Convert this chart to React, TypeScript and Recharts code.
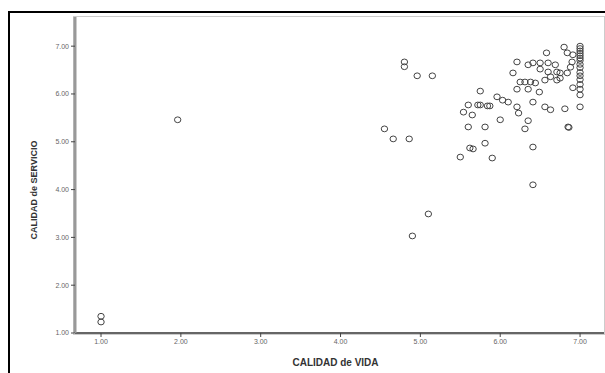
import { ScatterChart, Scatter, XAxis, YAxis } from "recharts";

// CALIDAD de VIDA (x) and CALIDAD de SERVICIO (y)
const vida = [
  1.0, 1.0, 1.96,
  4.8, 4.8, 4.96, 5.15,
  4.55, 4.66, 4.86,
  4.9, 5.1,
  5.5, 5.9, 5.62, 5.66, 5.81, 6.41, 6.41,
  5.6, 5.81, 6.0, 6.35, 6.31, 6.85, 6.86,
  5.54, 5.65, 5.6, 5.75, 5.84, 5.87, 5.72,
  5.96, 6.03, 6.1, 6.21, 6.23, 6.41, 6.56, 6.63, 6.81, 7.0,
  5.75, 6.21, 6.35, 6.49, 6.91,
  6.25, 6.31, 6.38, 6.44, 6.56, 6.63, 6.71, 6.75,
  6.16, 6.5, 6.6,
  6.21, 6.35, 6.41, 6.5, 6.6, 6.69, 6.71, 6.75, 6.84, 6.88, 6.9,
  6.58, 6.84, 6.91, 6.8,
  7.0, 7.0, 7.0, 7.0, 7.0, 7.0, 7.0, 7.0, 7.0, 7.0, 7.0, 7.0, 7.0, 7.0, 7.0,
];

const servicio = [
  1.35, 1.23, 5.46,
  6.67, 6.57, 6.38, 6.38,
  5.27, 5.06, 5.06,
  3.03, 3.49,
  4.68, 4.66, 4.87, 4.85, 4.97, 4.89, 4.1,
  5.31, 5.31, 5.46, 5.44, 5.27, 5.31, 5.3,
  5.62, 5.56, 5.77, 5.77, 5.75, 5.75, 5.77,
  5.94, 5.87, 5.83, 5.73, 5.6, 5.83, 5.73, 5.67, 5.69, 5.73,
  6.06, 6.1, 6.1, 6.04, 6.13,
  6.25, 6.25, 6.25, 6.23, 6.29, 6.36, 6.29, 6.33,
  6.44, 6.52, 6.46,
  6.67, 6.61, 6.65, 6.65, 6.65, 6.61, 6.46, 6.44, 6.44, 6.56, 6.67,
  6.86, 6.86, 6.82, 6.98,
  7.0, 6.95, 6.9, 6.85, 6.8, 6.75, 6.7, 6.62, 6.55, 6.45, 6.38, 6.3, 6.2, 6.1, 5.98,
];

const ticks = [1, 2, 3, 4, 5, 6, 7];

const points = vida.map((v, i) => ({ vida: v, servicio: servicio[i] }));

const tickStyle = { fontSize: 7, fill: "#666", fontFamily: "Liberation Sans, Arial" };

const Ring = (props: any) => (
  <ellipse cx={props.cx} cy={props.cy} rx={3.2} ry={2.9} fill="none" stroke="#444" strokeWidth={1} />
);

export default function App() {
  return (
    <div
      style={{
        position: "absolute",
        left: 0,
        top: 0,
        width: 605,
        height: 373,
        overflow: "hidden",
        background: "#fff",
      }}
    >
      <div
        style={{
          position: "absolute",
          left: 8,
          top: 11,
          width: 620,
          height: 400,
          border: "2px solid #000",
        }}
      />
      <div
        style={{
          position: "absolute",
          left: 73,
          top: 16,
          width: 530,
          height: 317,
          border: "1px solid #ccc",
        }}
      />
      <div style={{ position: "absolute", left: 0, top: 0 }}>
        <ScatterChart width={605} height={373} margin={{ top: 17, right: 1, left: 0, bottom: 0 }}>
          <XAxis
            type="number"
            dataKey="vida"
            domain={[0.674, 7.3]}
            ticks={ticks}
            tickFormatter={(v: number) => v.toFixed(2)}
            height={40}
            tick={tickStyle}
            tickSize={4}
            tickLine={{ stroke: "#444", strokeWidth: 1 }}
            stroke="#666"
            strokeWidth={2}
            label={{
              value: "CALIDAD de VIDA",
              position: "center",
              dy: 9,
              dx: -4,
              style: { fontSize: 10, fontWeight: "bold", fill: "#333", fontFamily: "Liberation Sans, Arial" },
            }}
          />
          <YAxis
            type="number"
            dataKey="servicio"
            domain={[1, 7.61]}
            ticks={ticks}
            tickFormatter={(v: number) => v.toFixed(2)}
            width={75}
            tick={tickStyle}
            tickSize={4}
            tickLine={{ stroke: "#444", strokeWidth: 1 }}
            stroke="#999"
            strokeWidth={3}
            label={{
              value: "CALIDAD de SERVICIO",
              angle: -90,
              position: "center",
              dx: -4,
              dy: 15,
              style: { fontSize: 9, fontWeight: "bold", fill: "#333", fontFamily: "Liberation Sans, Arial" },
            }}
          />
          <Scatter data={points} shape={Ring} isAnimationActive={false} />
        </ScatterChart>
      </div>
    </div>
  );
}
